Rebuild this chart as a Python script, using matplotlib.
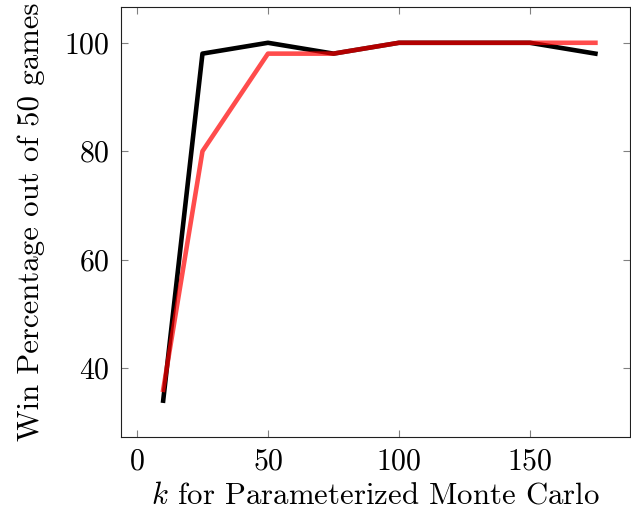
import matplotlib
matplotlib.use("Agg")
import matplotlib.pyplot as plt

k_values = [10, 25, 50, 75, 100, 150, 175]
black_win = [34, 98, 100, 98, 100, 100, 98]
red_win = [36, 80, 98, 98, 100, 100, 100]
x_ticks = [0, 50, 100, 150]
y_ticks = [40, 60, 80, 100]

plt.rcParams['font.family'] = 'serif'
plt.rcParams['font.serif'] = ['cmr10']
plt.rcParams['mathtext.fontset'] = 'cm'
plt.rcParams['axes.formatter.use_mathtext'] = True

fig = plt.figure(figsize=(6.31, 5.18), dpi=100)
ax = fig.add_axes([121/631, 1 - 437/518, (630 - 121)/631, (437 - 7)/518])

ax.plot(k_values, black_win, color='black', linewidth=3.3)
ax.plot(k_values, red_win, color='red', alpha=0.7, linewidth=3.3)

ax.set_xlim(-6.1, 188.2)
ax.set_ylim(27.3, 106.6)
ax.set_xticks(x_ticks)
ax.set_yticks(y_ticks)
ax.tick_params(direction='in', length=5, width=0.8, color='#808080',
               top=True, right=True, labelsize=21.5, pad=8)
for s in ax.spines.values():
    s.set_linewidth(0.8)
    s.set_color('#202020')

ax.set_xlabel('$k$ for Parameterized Monte Carlo', fontsize=22.2, labelpad=5)
ax.set_ylabel('Win Percentage out of 50 games', fontsize=22.2, labelpad=14)

fig.savefig('out.png', dpi=100)
